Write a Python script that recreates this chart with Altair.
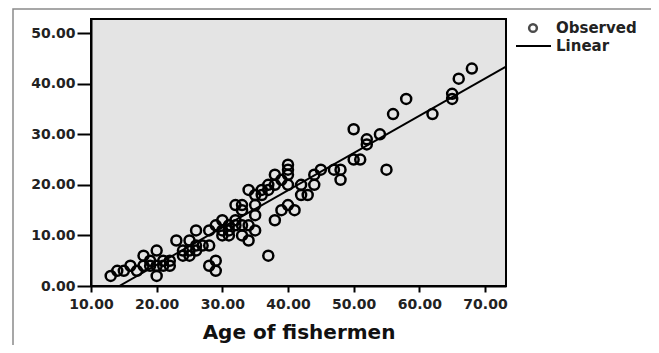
import altair as alt
import pandas as pd

ages = [13, 14, 15, 16, 17, 18, 18, 19, 19, 20, 20, 20, 21, 21, 22, 22, 23, 24, 24,
        25, 25, 25, 26, 26, 26, 27, 28, 28, 28, 29, 29, 29, 30, 30, 30, 31, 31, 31,
        32, 32, 32, 33, 33, 33, 33, 34, 34, 34, 35, 35, 35, 35, 36, 36, 37, 37, 37,
        38, 38, 38, 39, 39, 40, 40, 40, 40, 40, 41, 42, 42, 43, 44, 44, 45, 47, 48,
        48, 50, 50, 51, 52, 52, 54, 55, 56, 58, 62, 65, 65, 66, 68]
values = [2, 3, 3, 4, 3, 6, 4, 5, 4, 7, 2, 4, 5, 4, 4, 5, 9, 6, 7,
          9, 6, 7, 11, 7, 8, 8, 11, 8, 4, 5, 3, 12, 13, 10, 11, 10, 12, 11,
          16, 13, 12, 16, 15, 10, 12, 19, 9, 12, 16, 14, 11, 18, 18, 19, 20, 19, 6,
          13, 22, 20, 15, 21, 24, 23, 22, 20, 16, 15, 20, 18, 18, 22, 20, 23, 23, 23,
          21, 31, 25, 25, 29, 28, 30, 23, 34, 37, 34, 38, 37, 41, 43]

# Linear fit line as drawn (start where it crosses 0, end at the right edge)
line_x = [14.3, 73.2]
line_y = [0.0, 43.4]

x_ticks = [10, 20, 30, 40, 50, 60, 70]
y_ticks = [0, 10, 20, 30, 40, 50]
legend_labels = ["Observed", "Linear"]

obs = pd.DataFrame({"age": ages, "val": values})
fit = pd.DataFrame({"age": line_x, "val": line_y})
one = pd.DataFrame({"k": [0]})

W, H = 415, 267
FONT = "DejaVu Sans"

xs = alt.Scale(domain=[10, 73.2], nice=False, zero=False)
ys = alt.Scale(domain=[0, 52.8], nice=False)

x_axis = alt.Axis(values=x_ticks, format=".2f", title="Age of fishermen", grid=False,
                  tickSize=6, tickWidth=2, tickColor="black", domainColor="black",
                  domainWidth=2, labelPadding=5, labelFont=FONT, labelFontSize=14,
                  labelFontWeight="bold", labelColor="#222", labelOverlap=False,
                  labelBound=False, labelFlush=False, titleFont=FONT,
                  titleFontSize=20, titleFontWeight="bold", titleColor="#111",
                  titlePadding=11)
y_axis = alt.Axis(values=y_ticks, format=".2f", title=None, grid=False,
                  tickSize=14, tickWidth=2, tickColor="black", domainColor="black",
                  domainWidth=2, labelPadding=2, labelFont=FONT, labelFontSize=14,
                  labelFontWeight="bold", labelColor="#222", labelOverlap=False,
                  labelBound=False, labelFlush=False)

frame = alt.Chart(one).mark_rect(filled=False, stroke="#8a8a8a", strokeWidth=1.5,
                                 clip=False).encode(
    x=alt.value(-78), y=alt.value(-10), x2=alt.value(700), y2=alt.value(400))

points = alt.Chart(obs).mark_point(shape="circle", filled=False, size=100,
                                   strokeWidth=2.5, color="black", opacity=1).encode(
    x=alt.X("age:Q", scale=xs, axis=x_axis),
    y=alt.Y("val:Q", scale=ys, axis=y_axis),
)

line = alt.Chart(fit).mark_line(color="black", strokeWidth=2, clip=True).encode(
    x=alt.X("age:Q", scale=xs), y=alt.Y("val:Q", scale=ys))

leg_df = pd.DataFrame({"label": legend_labels})
obs_leg = leg_df[leg_df.label == "Observed"]
lin_leg = leg_df[leg_df.label == "Linear"]

text_style = dict(align="left", baseline="middle", font=FONT, fontSize=15,
                  fontWeight="bold", color="#222")
leg_text1 = alt.Chart(obs_leg).mark_text(**text_style).encode(
    x=alt.value(465), y=alt.value(9), text="label:N")
leg_text2 = alt.Chart(lin_leg).mark_text(**text_style).encode(
    x=alt.value(465), y=alt.value(27), text="label:N")
leg_pt = alt.Chart(obs_leg).mark_point(
    shape="circle", filled=False, size=60, strokeWidth=2.5, color="black").encode(
    x=alt.value(442), y=alt.value(9))
leg_line = alt.Chart(lin_leg).mark_rule(color="black", strokeWidth=2).encode(
    x=alt.value(425), x2=alt.value(460), y=alt.value(27))

chart = alt.layer(frame, points, line, leg_pt, leg_line, leg_text1, leg_text2).properties(
    width=W, height=H,
    autosize=alt.AutoSizeParams(type="none"),
    padding={"left": 83, "top": 11, "right": 145, "bottom": 59},
    background="white",
).configure_view(fill="#e4e4e4", stroke="black", strokeWidth=2)

chart.save("out.html", embed_options={"renderer": "svg", "actions": False})
